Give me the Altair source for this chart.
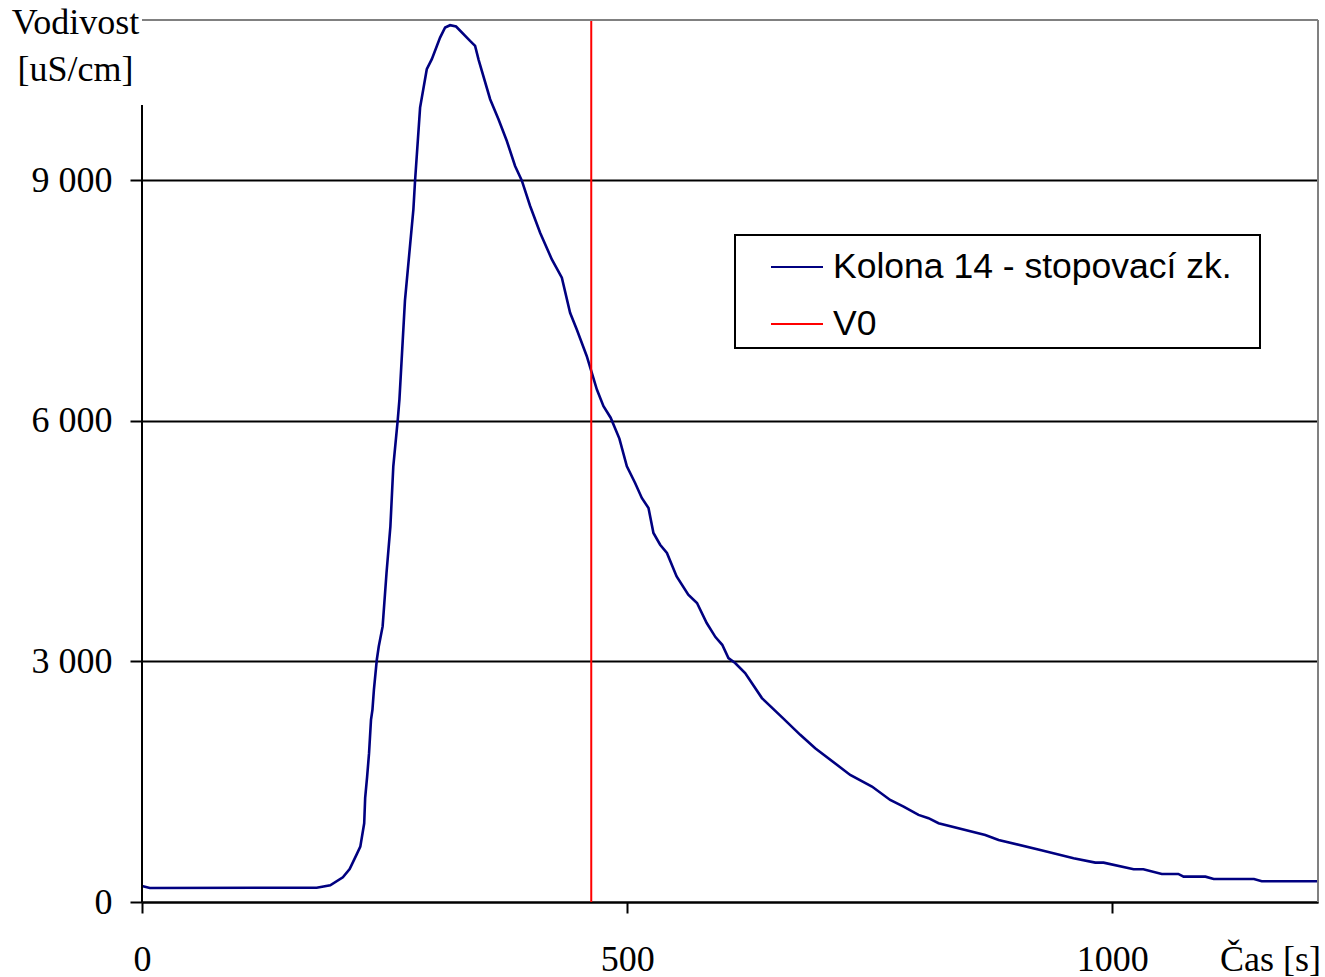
import altair as alt
import pandas as pd

# Curve: time [s] and conductivity [uS/cm]
time_s = [0, 8, 180, 194, 207, 214, 221, 225, 229, 230, 232, 234, 236, 237.5, 239,
          242, 244, 248, 252, 256, 259, 263.6, 265.3, 271, 279.7, 281.4, 286.6, 293.5,
          298.7, 307.2, 312.4, 317.5, 323.7, 338.1, 343.3, 347, 358.8, 367.4, 376, 384.5,
          391.4, 400, 410.3, 422.4, 432.7, 441.2, 448.1, 458.4, 463.6, 468.8, 475.6, 483,
          492, 499.7, 508.2, 515.1, 522, 527.1, 534, 541, 551, 563, 572, 582, 591, 598,
          604.4, 611.3, 621.6, 638.9, 660, 678.4, 693.8, 729.9, 752.3, 771.1, 784.9,
          800.3, 810.6, 820.9, 869.1, 882.8, 925.8, 960.1, 982.5, 991, 1022, 1032, 1051,
          1068, 1073.5, 1096, 1104.5, 1146, 1154, 1212]
conductivity = [200, 175, 178, 208, 308, 410, 587, 690, 982, 1300, 1560, 1856, 2272, 2397, 2646,
                3021, 3187, 3437, 4103, 4685, 5434, 6017, 6266, 7500, 8638, 8992, 9907, 10386,
                10511, 10781, 10906, 10935, 10919, 10739, 10677, 10500, 10012, 9762, 9491, 9179,
                9000, 8680, 8347, 8014, 7786, 7349, 7140, 6807, 6599, 6391, 6183, 6040,
                5780, 5434, 5226, 5039, 4914, 4602, 4456, 4353, 4061, 3832, 3729, 3479, 3304, 3208,
                3042, 2980, 2855, 2543, 2300, 2085, 1918, 1585, 1440, 1273, 1190,
                1086, 1045, 982, 836, 774, 649, 545, 491, 491, 408, 408, 350,
                350, 316, 316, 287, 287, 258, 258]

series_names = ["Kolona 14 - stopovací zk.", "V0"]
series_colors = ["#000080", "#FF0000"]
v0_time = [463]

x_ticks = [0, 500, 1000]
y_ticks = [0, 3000, 6000, 9000]
x_max = 1212
y_max = 11000

W, H = 1176, 882
SERIF = "Liberation Serif"
FS = 36

curve_df = pd.DataFrame({"t": time_s, "v": conductivity, "series": series_names[0]})
v0_df = pd.DataFrame({"t": v0_time, "series": series_names[1]})

color = alt.Color(
    "series:N",
    scale=alt.Scale(domain=series_names, range=series_colors),
    legend=alt.Legend(
        title=None,
        orient="none",
        legendX=628,
        legendY=220,
        padding=0,
        symbolType="stroke",
        symbolSize=2704,
        symbolStrokeWidth=2,
        labelFont="Liberation Sans",
        labelFontSize=35.5,
        labelColor="black",
        labelOffset=9,
        labelLimit=600,
        rowPadding=11,
    ),
)

x_enc = alt.X(
    "t:Q",
    scale=alt.Scale(domain=[0, x_max], nice=False, zero=False),
    axis=alt.Axis(
        values=x_ticks,
        format="d",
        grid=False,
        domainColor="black",
        domainWidth=2,
        tickColor="black",
        tickWidth=2,
        tickSize=11,
        labelFont=SERIF,
        labelFontSize=FS,
        labelColor="black",
        labelBaseline="alphabetic",
        labelPadding=57,
        labelFlush=False,
        labelAngle=0,
        title="Čas [s]",
        titleFont=SERIF,
        titleFontSize=FS,
        titleFontWeight="normal",
        titleColor="black",
        titleX=1128,
        titleY=68,
        titleAlign="center",
        titleBaseline="alphabetic",
    ),
)

y_enc = alt.Y(
    "v:Q",
    scale=alt.Scale(domain=[0, y_max], nice=False),
    axis=alt.Axis(
        values=y_ticks,
        grid=True,
        gridColor="black",
        gridWidth=2,
        gridOpacity=1,
        domain=False,
        tickColor="black",
        tickWidth=2,
        tickSize=12,
        labelFont=SERIF,
        labelFontSize=FS,
        labelColor="black",
        labelPadding=18,
        labelFlush=False,
        labelExpr="replace(format(datum.value, ','), ',', ' ')",
        title=["Vodivost", "[uS/cm]"],
        titleFont=SERIF,
        titleFontSize=FS,
        titleFontWeight="normal",
        titleColor="black",
        titleAngle=0,
        titleX=-67,
        titleY=13,
        titleAlign="center",
        titleBaseline="alphabetic",
        titleLineHeight=47,
    ),
)

curve = alt.Chart(curve_df).mark_line(strokeWidth=2.6).encode(
    x=x_enc, y=y_enc, color=color, order="t:Q"
)

v0_rule = alt.Chart(v0_df).mark_rule(strokeWidth=2).encode(
    x="t:Q", color=alt.Color("series:N")
)

one = alt.Data(values=[{}])

top_border = alt.Chart(one).mark_rule(color="#808080", strokeWidth=2).encode(
    x=alt.value(0), x2=alt.value(W), y=alt.value(0)
)
right_border = alt.Chart(one).mark_rule(color="#808080", strokeWidth=2).encode(
    x=alt.value(W), y=alt.value(0), y2=alt.value(H)
)
left_axis = alt.Chart(one).mark_rule(color="black", strokeWidth=2).encode(
    x=alt.value(0), y=alt.value(85), y2=alt.value(H)
)
legend_box = alt.Chart(one).mark_rect(fill="white", stroke="black", strokeWidth=2).encode(
    x=alt.value(593), x2=alt.value(1118), y=alt.value(215), y2=alt.value(328)
)

chart = alt.layer(
    curve, v0_rule, top_border, right_border, left_axis, legend_box
).properties(
    width=W,
    height=H,
    autosize=alt.AutoSizeParams(type="none"),
    padding={"left": 142, "top": 20, "right": 7, "bottom": 75},
    background="white",
).configure_view(strokeWidth=0)

chart.save("out.html", embed_options={"renderer": "svg", "actions": False})
